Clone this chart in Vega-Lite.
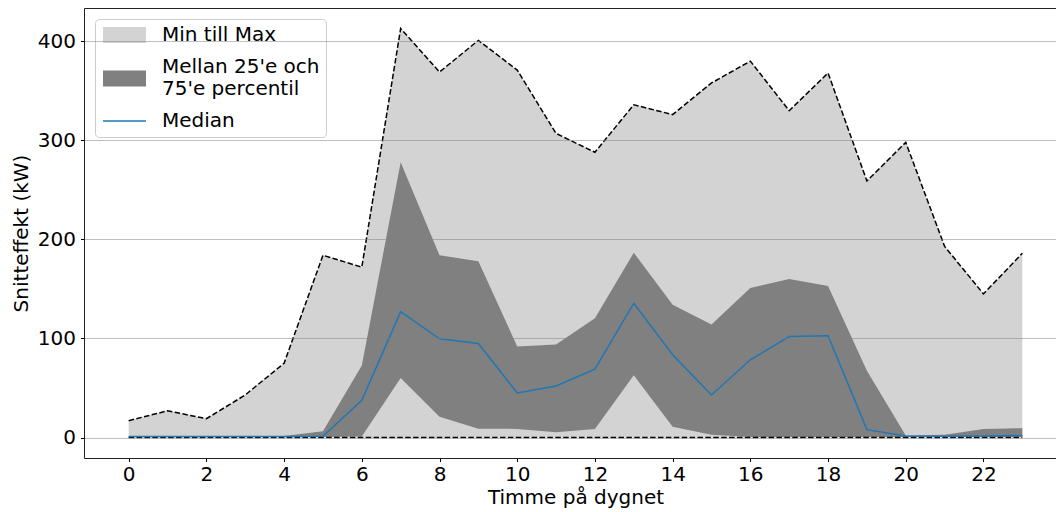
{
  "$schema": "https://vega.github.io/schema/vega-lite/v6.json",
  "width": 983,
  "height": 450,
  "autosize": {"type": "none"},
  "padding": {"left": 84, "top": 8, "right": 0, "bottom": 54},
  "background": "white",
  "config": {
    "font": "DejaVu Sans",
    "view": {"stroke": "#222222", "strokeWidth": 1},
    "axis": {
      "labelFont": "DejaVu Sans",
      "labelFontSize": 20,
      "labelColor": "#000000",
      "titleFont": "DejaVu Sans",
      "titleFontSize": 20,
      "titleFontWeight": "normal",
      "titleColor": "#000000",
      "tickColor": "#000000",
      "tickSize": 3.5,
      "tickWidth": 1,
      "domain": false,
      "labelOverlap": false
    }
  },
  "data": {
    "values": [
      {"hour": 0, "min": 0, "max": 17, "p25": 0.5, "p75": 1, "median": 1},
      {"hour": 1, "min": 0, "max": 27, "p25": 0.5, "p75": 1, "median": 1},
      {"hour": 2, "min": 0, "max": 19, "p25": 0.5, "p75": 1, "median": 1},
      {"hour": 3, "min": 0, "max": 43, "p25": 0.5, "p75": 1, "median": 1},
      {"hour": 4, "min": 0, "max": 75, "p25": 0.5, "p75": 1.5, "median": 1},
      {"hour": 5, "min": 0, "max": 184, "p25": 0.5, "p75": 6.4, "median": 1.3},
      {"hour": 6, "min": 0, "max": 172, "p25": 1, "p75": 72.7, "median": 37.7},
      {"hour": 7, "min": 0, "max": 413, "p25": 60, "p75": 278, "median": 127},
      {"hour": 8, "min": 0, "max": 369, "p25": 21, "p75": 184, "median": 99.7},
      {"hour": 9, "min": 0, "max": 401, "p25": 9, "p75": 178, "median": 95},
      {"hour": 10, "min": 0, "max": 371, "p25": 8.7, "p75": 92, "median": 45},
      {"hour": 11, "min": 0, "max": 307, "p25": 5.4, "p75": 94, "median": 52},
      {"hour": 12, "min": 0, "max": 288, "p25": 8.7, "p75": 120.5, "median": 69},
      {"hour": 13, "min": 0, "max": 336, "p25": 63, "p75": 186.6, "median": 135.6},
      {"hour": 14, "min": 0, "max": 326, "p25": 11, "p75": 134, "median": 83.6},
      {"hour": 15, "min": 0, "max": 358, "p25": 2.7, "p75": 114, "median": 43},
      {"hour": 16, "min": 0, "max": 380, "p25": 0.5, "p75": 151, "median": 78.5},
      {"hour": 17, "min": 0, "max": 330, "p25": 0.5, "p75": 160, "median": 102},
      {"hour": 18, "min": 0, "max": 368, "p25": 0.5, "p75": 153, "median": 102.7},
      {"hour": 19, "min": 0, "max": 259, "p25": 0.5, "p75": 67.4, "median": 8},
      {"hour": 20, "min": 0, "max": 298, "p25": 0.5, "p75": 2, "median": 1.5},
      {"hour": 21, "min": 0, "max": 193, "p25": 0.5, "p75": 2.7, "median": 1.3},
      {"hour": 22, "min": 0, "max": 145, "p25": 0.5, "p75": 8.7, "median": 1.5},
      {"hour": 23, "min": 0, "max": 186, "p25": 0.5, "p75": 9.4, "median": 2}
    ]
  },
  "layer": [
    {
      "mark": {"type": "area", "opacity": 1},
      "encoding": {
        "x": {
          "field": "hour", "type": "quantitative", "title": "Timme på dygnet",
          "scale": {"domain": [-1.15, 24.15], "nice": false, "zero": false},
          "axis": {"values": [0, 2, 4, 6, 8, 10, 12, 14, 16, 18, 20, 22], "grid": false, "labelPadding": 3, "titlePadding": 3, "labelAngle": 0, "labelFlush": false}
        },
        "y": {
          "field": "min", "type": "quantitative", "title": "Snitteffekt (kW)",
          "scale": {"domain": [-20.65, 433.65], "nice": false, "zero": false},
          "axis": {"values": [0, 100, 200, 300, 400], "grid": true, "gridColor": "#808080", "gridOpacity": 0.5, "gridWidth": 1, "zindex": 1, "labelPadding": 5, "titlePadding": 6}
        },
        "y2": {"field": "max"},
        "color": {
          "datum": "Min till Max", "type": "nominal",
          "scale": {"domain": ["Min till Max", "Mellan 25'e och 75'e percentil", "Median"], "range": ["#d3d3d3", "#808080", "#1f77b4"]},
          "legend": {
            "orient": "top-left",
            "offset": 11,
            "title": null,
            "labelFont": "DejaVu Sans",
            "labelFontSize": 20,
            "labelColor": "#000000",
            "labelLimit": 400,
            "labelOffset": 41,
            "rowPadding": 12,
            "padding": 6,
            "fillColor": "rgba(255,255,255,0.8)",
            "strokeColor": "#cccccc",
            "cornerRadius": 4,
            "symbolSize": 256,
            "symbolStrokeWidth": 0,
            "symbolOpacity": 1,
            "symbolType": {"expr": "datum.value === 'Median' ? 'M-1,-0.094H4.375V0.094H-1Z' : datum.value === 'Min till Max' ? 'M-1,-1H4.375V1H-1Z' : 'M-1,0.45H4.375V2.45H-1Z'"},
            "labelExpr": "datum.value === 'Median' || datum.value === 'Min till Max' ? datum.label : [\"Mellan 25'e och\u00a0\u00a0\", \"75'e percentil\"]"
          }
        }
      }
    },
    {
      "mark": {"type": "area", "opacity": 1},
      "encoding": {
        "x": {"field": "hour", "type": "quantitative", "title": "Timme på dygnet"},
        "y": {"field": "p25", "type": "quantitative", "title": "Snitteffekt (kW)"},
        "y2": {"field": "p75"},
        "color": {"datum": "Mellan 25'e och 75'e percentil", "type": "nominal"}
      }
    },
    {
      "mark": {"type": "line", "color": "#000000", "strokeWidth": 1.5, "strokeDash": [5.5, 2.4]},
      "encoding": {
        "x": {"field": "hour", "type": "quantitative", "title": "Timme på dygnet"},
        "y": {"field": "max", "type": "quantitative", "title": "Snitteffekt (kW)"}
      }
    },
    {
      "mark": {"type": "line", "color": "#000000", "strokeWidth": 1.5, "strokeDash": [5.5, 2.4]},
      "encoding": {
        "x": {"field": "hour", "type": "quantitative", "title": "Timme på dygnet"},
        "y": {"field": "min", "type": "quantitative", "title": "Snitteffekt (kW)"}
      }
    },
    {
      "mark": {"type": "line", "strokeWidth": 1.5},
      "encoding": {
        "x": {"field": "hour", "type": "quantitative", "title": "Timme på dygnet"},
        "y": {"field": "median", "type": "quantitative", "title": "Snitteffekt (kW)"},
        "color": {"datum": "Median", "type": "nominal"}
      }
    }
  ]
}
